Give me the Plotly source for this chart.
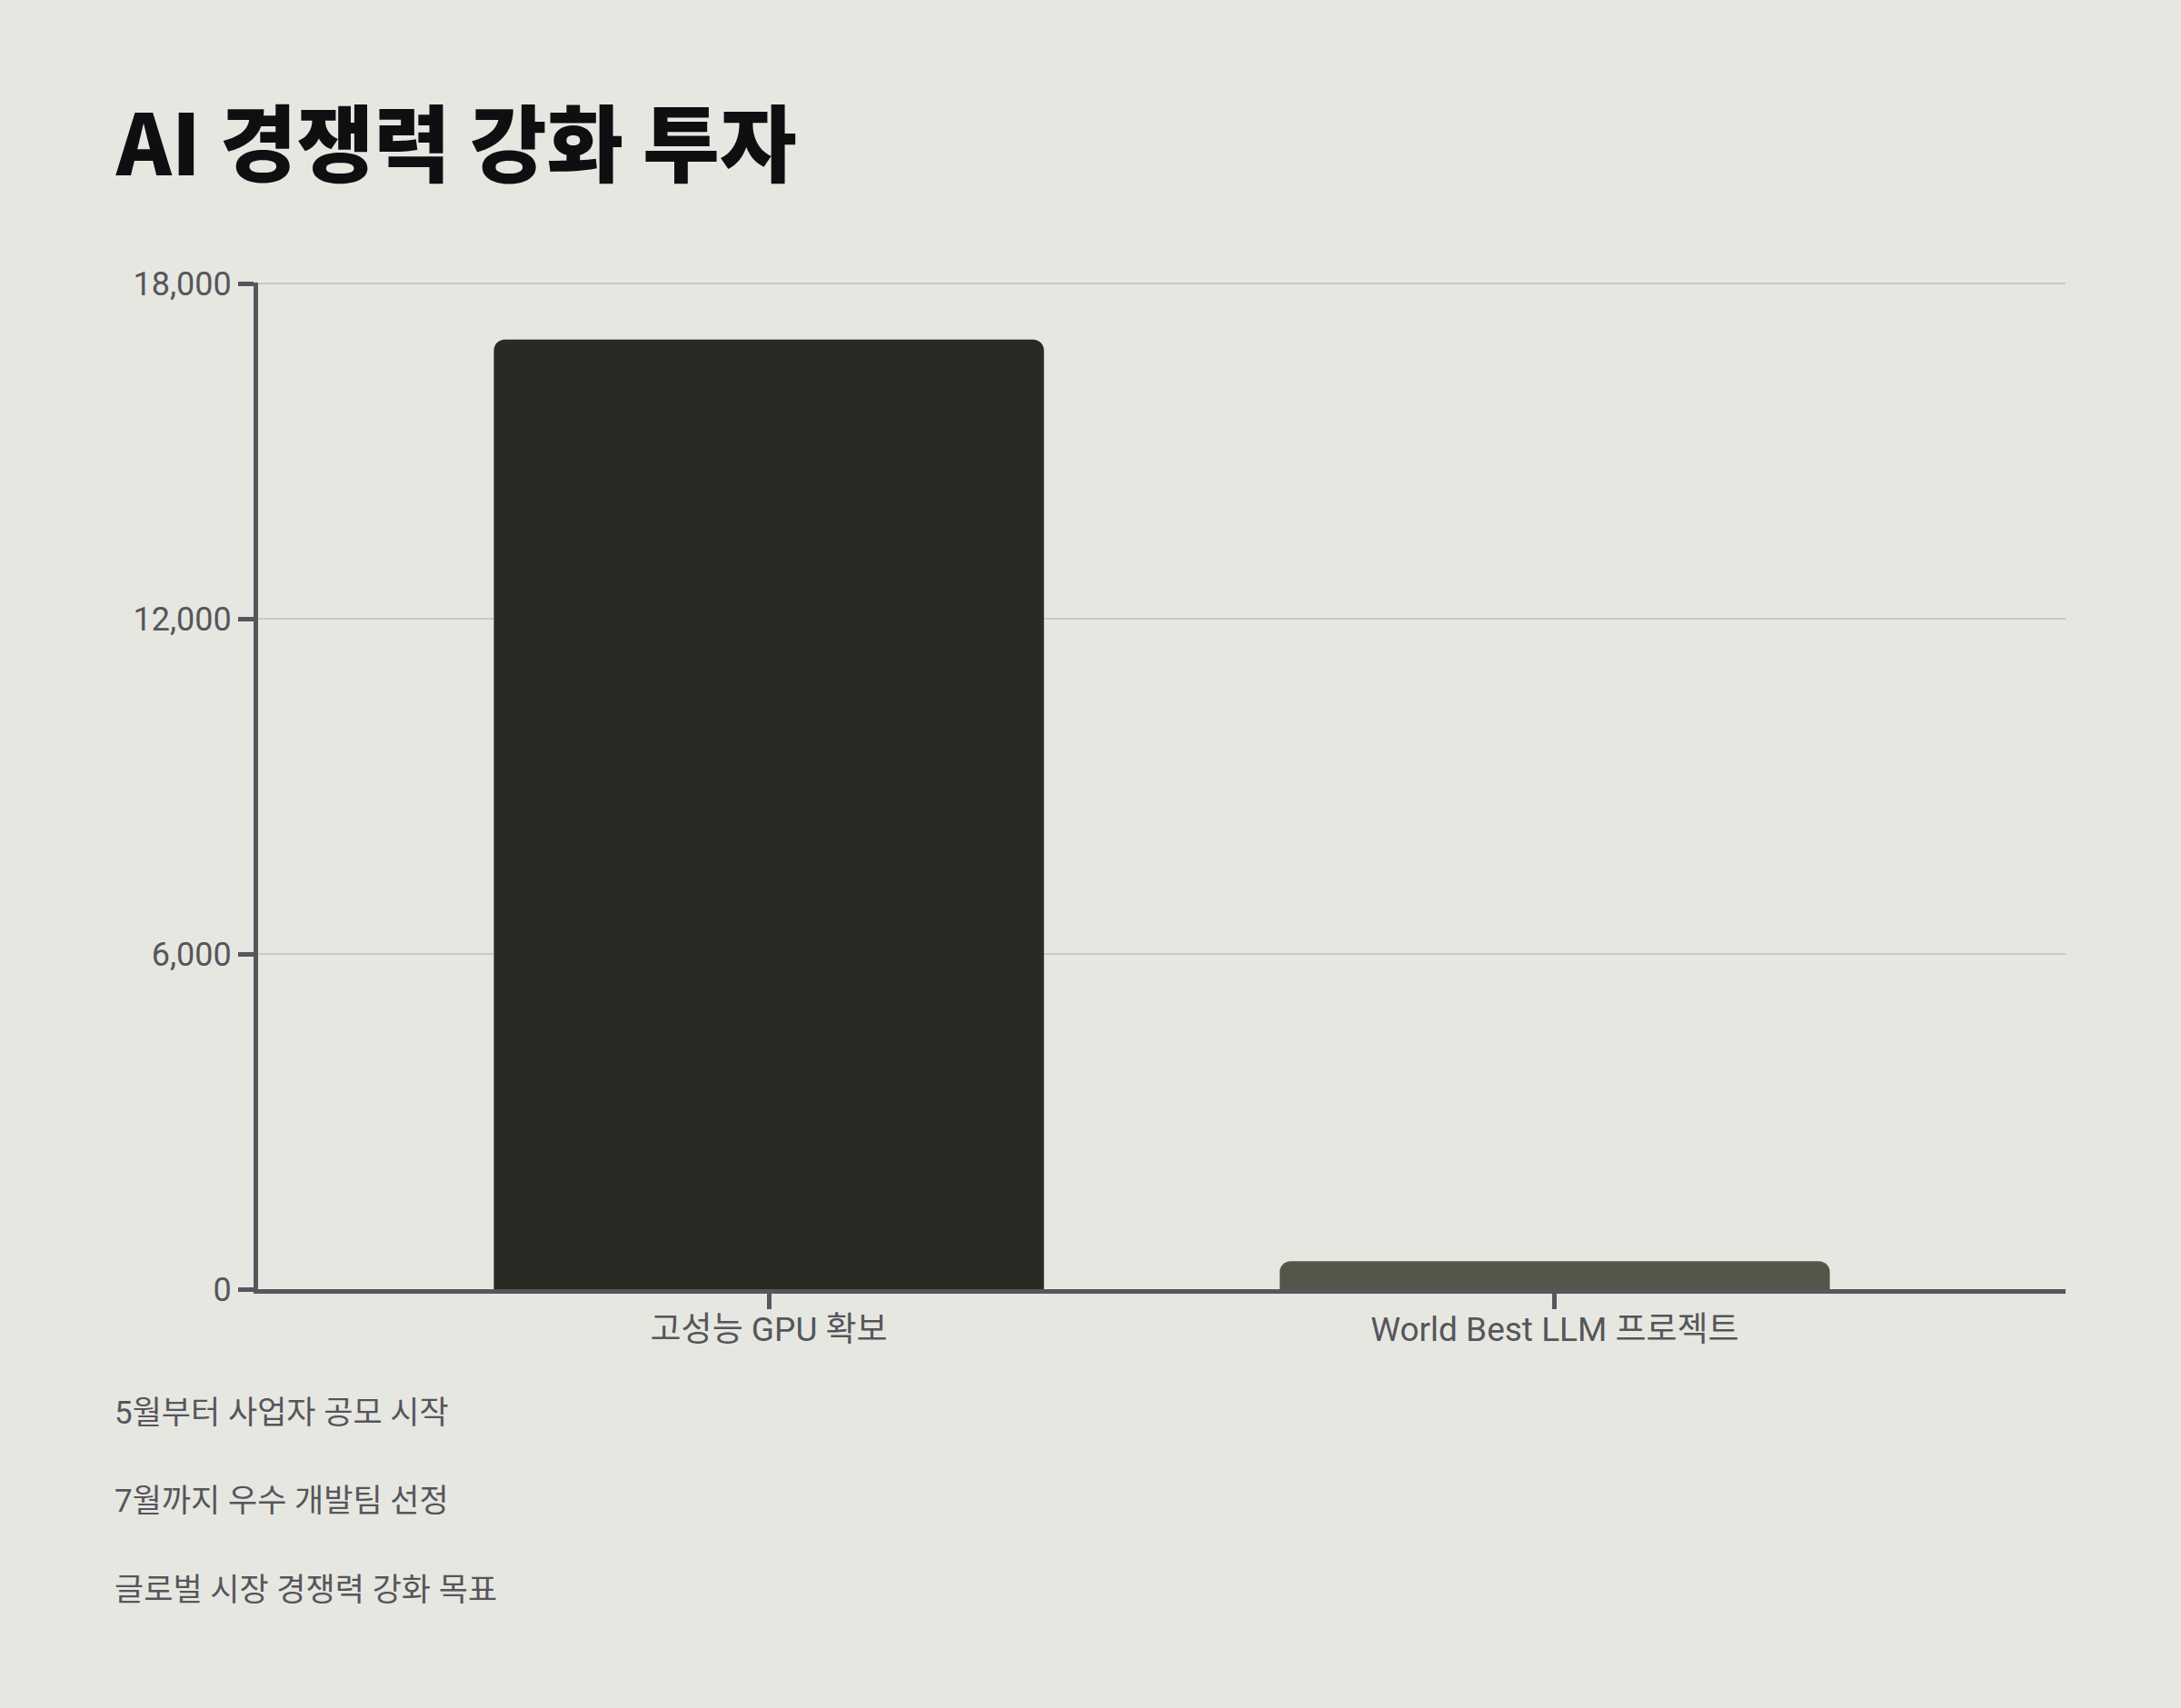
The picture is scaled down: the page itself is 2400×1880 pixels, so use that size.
import plotly.graph_objects as go

categories = ["고성능 GPU 확보", "World Best LLM 프로젝트"]
values = [17000, 500]
bar_colors = ["#292A24", "#55554A"]
y_ticks = [0, 6000, 12000, 18000]
notes = ["5월부터 사업자 공모 시작", "7월까지 우수 개발팀 선정", "글로벌 시장 경쟁력 강화 목표"]
title_text = "AI 경쟁력 강화 투자"

W, H = 2400, 1880
L, R, T, B = 284, 127, 311, 461
plot_w = W - L - R
plot_h = H - T - B

BG = "#E7E7E1"
AXIS = "#56575C"
TEXT = "#55565B"
FONT = "Roboto, 'Noto Sans CJK KR', sans-serif"

fig = go.Figure(
    go.Bar(
        x=categories,
        y=values,
        marker=dict(color=bar_colors, line=dict(width=0)),
        width=0.7,
        hoverinfo="skip",
    )
)

annotations = []
note_y_px = [1555, 1653, 1750]
for txt, py in zip(notes, note_y_px):
    annotations.append(
        dict(
            text=txt,
            xref="paper",
            yref="paper",
            x=(124 - L) / plot_w,
            y=(H - B - py) / plot_h,
            xanchor="left",
            yanchor="middle",
            showarrow=False,
            font=dict(family=FONT, size=35, color=TEXT),
        )
    )

fig.update_layout(
    width=W,
    height=H,
    margin=dict(l=L, r=R, t=T, b=B, pad=0),
    paper_bgcolor=BG,
    plot_bgcolor=BG,
    barcornerradius=12,
    showlegend=False,
    title=dict(
        text=title_text,
        xref="container",
        yref="container",
        x=128 / W,
        xanchor="left",
        y=1 - 161 / H,
        yanchor="middle",
        font=dict(family="'Noto Sans CJK KR', sans-serif", size=92, color="#0E0F11", weight=900),
    ),
    xaxis=dict(
        type="category",
        range=[-0.65, 1.65],
        showline=True,
        linecolor=AXIS,
        linewidth=5,
        ticks="outside",
        ticklen=17,
        tickwidth=5,
        tickcolor=AXIS,
        showgrid=False,
        ticklabelstandoff=-9,
        tickfont=dict(family=FONT, size=37, color=TEXT),
        fixedrange=True,
    ),
    yaxis=dict(
        range=[0, 18020],
        tickvals=y_ticks,
        tickformat=",",
        showline=True,
        linecolor=AXIS,
        linewidth=5,
        ticks="outside",
        ticklen=17,
        tickwidth=5,
        tickcolor=AXIS,
        showgrid=True,
        gridcolor="#C9C9C3",
        gridwidth=2,
        zeroline=False,
        tickfont=dict(family=FONT, size=36, color=TEXT),
        fixedrange=True,
    ),
    annotations=annotations,
)

fig.write_html(
    "out.html",
    config={"displayModeBar": False},
    post_script="document.body.style.margin='0';document.body.style.overflow='hidden';",
)
